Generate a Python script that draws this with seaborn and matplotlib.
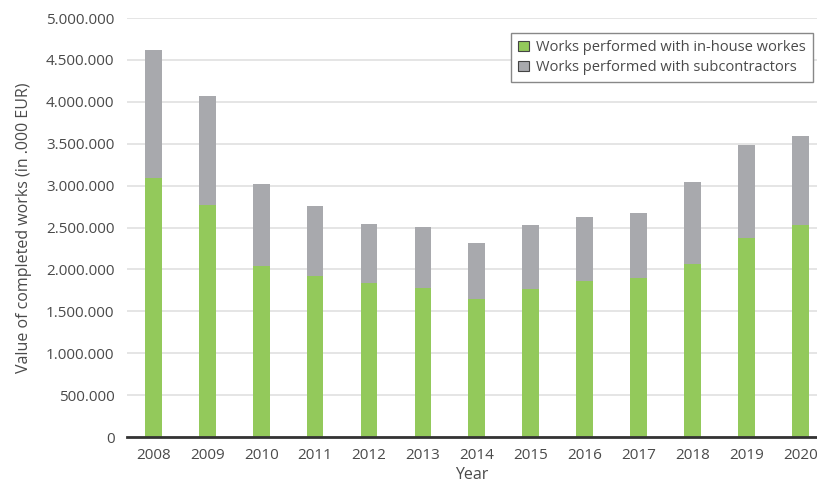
import matplotlib
matplotlib.use("Agg")
import matplotlib.pyplot as plt
import seaborn as sns
import pandas as pd
from matplotlib.patches import Patch
from matplotlib.ticker import FuncFormatter, MultipleLocator

years = ["2008", "2009", "2010", "2011", "2012", "2013", "2014",
         "2015", "2016", "2017", "2018", "2019", "2020"]
inhouse = [3095000, 2765000, 2045000, 1926000, 1843000, 1775000, 1652000,
           1771000, 1858000, 1902000, 2061000, 2375000, 2535000]
total = [4623000, 4069000, 3019000, 2757000, 2547000, 2503000, 2320000,
         2535000, 2630000, 2678000, 3039000, 3481000, 3597000]
series_names = ["Works performed with in-house workes",
                "Works performed with subcontractors"]

green = "#93c95b"
gray = "#a8a9ad"
text_c = "#4a4a4a"

sns.set_theme(style="white")
plt.rcParams['font.family'] = ['Open Sans', 'DejaVu Sans']

df = pd.DataFrame({"year": years, "inhouse": inhouse, "total": total})

fig = plt.figure(figsize=(8.17, 4.86), dpi=100)
ax = fig.add_axes([127/817, 49/486, 690/817, (437-18)/486])

sns.barplot(data=df, x="year", y="total", color=gray, width=0.31,
            saturation=1, ax=ax, zorder=2, linewidth=0)
sns.barplot(data=df, x="year", y="inhouse", color=green, width=0.31,
            saturation=1, ax=ax, zorder=3, linewidth=0)

ax.set_ylim(0, 5000000)
ax.set_xlim(-0.49, 12.31)
ax.yaxis.set_major_locator(MultipleLocator(500000))
ax.yaxis.set_major_formatter(FuncFormatter(lambda v, p: f"{int(v):,}".replace(",", ".")))
ax.grid(axis="y", color="#e0e0e0", linewidth=1.2, zorder=0)
ax.set_axisbelow(True)
for s in ["top", "right", "left"]:
    ax.spines[s].set_visible(False)
ax.spines["bottom"].set_color("#333333")
ax.spines["bottom"].set_linewidth(2)
ax.spines["bottom"].set_zorder(5)
ax.tick_params(axis="both", length=0, labelsize=11, colors=text_c, pad=8)
ax.tick_params(axis="y", pad=9)

ax.set_xlabel("Year", fontsize=11.5, color=text_c, labelpad=3)
ax.set_ylabel("Value of completed works (in .000 EUR)", fontsize=11.5,
              color=text_c, labelpad=10)

handles = [Patch(facecolor=green, edgecolor="#444444", linewidth=0.8),
           Patch(facecolor=gray, edgecolor="#444444", linewidth=0.8)]
leg = ax.legend(handles, series_names, loc="upper right",
                bbox_to_anchor=(0.994, 0.964), borderaxespad=0, fontsize=10.5,
                frameon=True, fancybox=False, handlelength=0.7,
                handleheight=0.7, handletextpad=0.5, labelspacing=0.3,
                borderpad=0.5, framealpha=1)
leg.get_frame().set_edgecolor("#888888")
leg.get_frame().set_linewidth(1.0)
for t in leg.get_texts():
    t.set_color(text_c)

fig.savefig("out.png", dpi=100)
